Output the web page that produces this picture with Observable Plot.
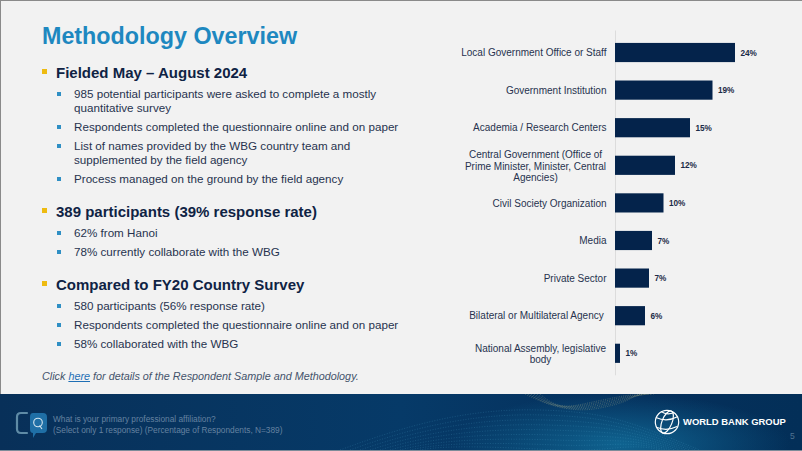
<!DOCTYPE html>
<html><head><meta charset="utf-8">
<script src="https://cdn.jsdelivr.net/npm/d3@7"></script>
<script src="https://cdn.jsdelivr.net/npm/@observablehq/plot@0.6"></script>
<style>
html,body{margin:0;padding:0;background:#f2f2f2;}
#slide{position:relative;width:802px;height:451px;overflow:hidden;background:#f2f2f2;font-family:"Liberation Sans",Arial,sans-serif;}
#slide .edge-t{position:absolute;left:0;top:0;width:802px;height:1px;background:#8a8a8a}
#slide .edge-l{position:absolute;left:0;top:0;width:1px;height:451px;background:#8a8a8a}
#chart{position:absolute;left:0;top:0}
#chart svg{display:block;background:transparent}
h1{position:absolute;left:42px;top:21px;margin:0;font-size:23.3px;line-height:30px;font-weight:bold;color:#1e88c0;white-space:nowrap}
.t{position:absolute;white-space:nowrap;color:#27324f;font-size:11.65px;line-height:14px}
.h{color:#0f2344;font-size:15px;font-weight:bold;line-height:18px;}
.b{position:absolute;background:#2f8fc4;width:4px;height:4px}
.y{position:absolute;background:#eebb11;width:5px;height:5px}
#foot{position:absolute;left:0;top:394px;width:802px;height:56px;background:radial-gradient(ellipse 170px 50px at 620px 50px,#0f6390 0%,rgba(15,99,144,0) 100%),linear-gradient(90deg,#083059,#063a68 50%,#05305c 80%,#032f58);}
#footline{position:absolute;left:0;top:450px;width:802px;height:1px;background:#7d8c99}
.q{position:absolute;left:53px;top:414px;font-size:8.3px;line-height:10.5px;color:#6582a0;white-space:nowrap}
.logo{position:absolute;left:683px;top:415px;font-size:9.45px;line-height:14px;font-weight:bold;color:#fff;white-space:nowrap}
.pg{position:absolute;left:790px;top:431px;font-size:8.5px;color:#4f7391}
</style></head><body>
<div id="slide">
<div id="chart"></div>
<div class="edge-t"></div><div class="edge-l"></div>
<h1>Methodology Overview</h1>
<div id="notes"></div>
<div class="t" style="left:42px;top:369px;font-style:italic;font-size:10.8px;color:#44526b">Click <a style="color:#1f6fb5;text-decoration:underline">here</a> for details of the Respondent Sample and Methodology.</div>
<div id="foot"></div><div id="footline"></div>
<svg id="deco" style="position:absolute;left:0;top:394px" width="802" height="56" viewBox="0 0 802 56" fill="none">
  <g id="wavesBlue" stroke="#4fa3c9" stroke-opacity=".35" stroke-width=".7" stroke-dasharray="1 1.6"></g>
  <g id="wavesGold" stroke="#b9b98a" stroke-opacity=".45" stroke-width=".7" stroke-dasharray="1 1.3"></g>
  <g stroke="#5f8ba6" stroke-width="2.2" stroke-linecap="round"><path d="M27 19H21Q17 19 17 23V35Q17 39 21 39H27"/></g>
  <path d="M33 19H43Q47 19 47 23V35Q47 39 43 39H36L33 44V39Q30 39 30 35V23Q30 19 33 19Z" fill="#1f6fa6"/>
  <circle cx="38" cy="28.5" r="4.3" stroke="#d6e6f0" stroke-width="1.1"/><path d="M39.5 31.5L42 35" stroke="#d6e6f0" stroke-width="1.1"/>
  <g stroke="#fff" stroke-width="1.2"><circle cx="667" cy="28" r="11.7"/><ellipse cx="667" cy="28" rx="5" ry="11.7" transform="rotate(22 667 28)"/><path d="M656 23.5Q667 28.5 678 22.5M657 33.5Q667 37.5 677 32.5M661 17.5Q667 21.5 674 18.5"/></g>
</svg>
<div class="q">What is your primary professional affiliation?<br>(Select only 1 response) (Percentage of Respondents, N=389)</div>
<div class="logo">WORLD BANK GROUP</div>
<div class="pg">5</div>
</div>
<script>
// Chart data
const categories = ["Local Government Office or Staff","Government Institution","Academia / Research Centers","Central Government (Office of\nPrime Minister, Minister, Central\nAgencies)","Civil Society Organization","Media","Private Sector","Bilateral or Multilateral Agency ","National Assembly, legislative\nbody"];
const shares = [24,19.5,15,12,9.7,7.4,6.8,6,1];
const shareLabels = ["24%","19%","15%","12%","10%","7%","7%","6%","1%"];
const rows = categories.map((c,i)=>({c,v:shares[i],l:shareLabels[i]}));
const single = rows.filter(d=>!d.c.includes("\n"));
const centralRow = rows.filter(d=>d.c.startsWith("Central"));
const assemblyRow = rows.filter(d=>d.c.startsWith("National"));

const chart = Plot.plot({
  width:802,height:451,
  marginLeft:615,marginRight:37,marginTop:24.5,marginBottom:69.7,
  style:{background:"transparent",fontFamily:"'Liberation Sans',Arial,sans-serif",overflow:"visible"},
  x:{domain:[0,30],axis:null},
  y:{domain:categories,axis:null,padding:0.49,round:false},
  marks:[
    Plot.ruleX([0],{stroke:"#dcdcdc",strokeWidth:1,insetTop:6,insetBottom:6}),
    Plot.barX(rows,{x:"v",y:"c",fill:"#04234b"}),
    Plot.text(rows,{x:"v",y:"c",text:"l",textAnchor:"start",dx:5,fontWeight:"bold",fontSize:8.2,fill:"#1b2b47"}),
    Plot.text(single,{x:0,y:"c",text:"c",textAnchor:"end",dx:-9,fontSize:10,fill:"#27324f"}),
    Plot.text(centralRow,{x:0,y:"c",text:"c",textAnchor:"middle",dx:-80,fontSize:10,lineHeight:1.17,fill:"#27324f"}),
    Plot.text(assemblyRow,{x:0,y:"c",text:"c",textAnchor:"middle",dx:-75,fontSize:10,lineHeight:1.17,fill:"#27324f"})
  ]
});
document.getElementById("chart").appendChild(chart);

// Slide text
const headings = [["Fielded May – August 2024",64],["389 participants (39% response rate)",203],["Compared to FY20 Country Survey",276]];
const bulletItems = [
 [["985 potential participants were asked to complete a mostly","quantitative survey"],86.5],
 [["Respondents completed the questionnaire online and on paper"],119.5],
 [["List of names provided by the WBG country team and","supplemented by the field agency"],138.5],
 [["Process managed on the ground by the field agency"],171.5],
 [["62% from Hanoi"],226],
 [["78% currently collaborate with the WBG"],245],
 [["580 participants (56% response rate)"],299],
 [["Respondents completed the questionnaire online and on paper"],318],
 [["58% collaborated with the WBG"],337]
];
const notes=document.getElementById("notes");
for(const [s,top] of headings){
  notes.insertAdjacentHTML("beforeend",`<div class="y" style="left:42px;top:${top+5}px"></div><div class="t h" style="left:56px;top:${top}px">${s}</div>`);
}
for(const [ls,top] of bulletItems){
  notes.insertAdjacentHTML("beforeend",`<div class="b" style="left:57px;top:${top+5}px"></div><div class="t" style="left:74px;top:${top}px">${ls.join("<br>")}</div>`);
}

// Decorative footer waves (background texture only, not chart data)
const NS="http://www.w3.org/2000/svg";
function addWave(g,d){const p=document.createElementNS(NS,"path");p.setAttribute("d",d);g.appendChild(p);}
const blue=document.getElementById("wavesBlue"), gold=document.getElementById("wavesGold");
for(let i=0;i<9;i++){
  const o=i*5;
  addWave(blue,`M${340+o*2} 56C${410+o} ${30+o/2} ${470+o} ${14+o} ${540+o/2} ${16+o}S${630} ${28+o/2} ${700-o} ${56}`);
}
for(let i=0;i<6;i++){
  const o=i*3;
  addWave(gold,`M${525+o} 0C${545+o} ${10+o/2} ${570} ${20-o/2} ${600} ${14-o/2}S${625} ${6-o/3} ${640+o} 0`);
}
</script>
</body></html>
